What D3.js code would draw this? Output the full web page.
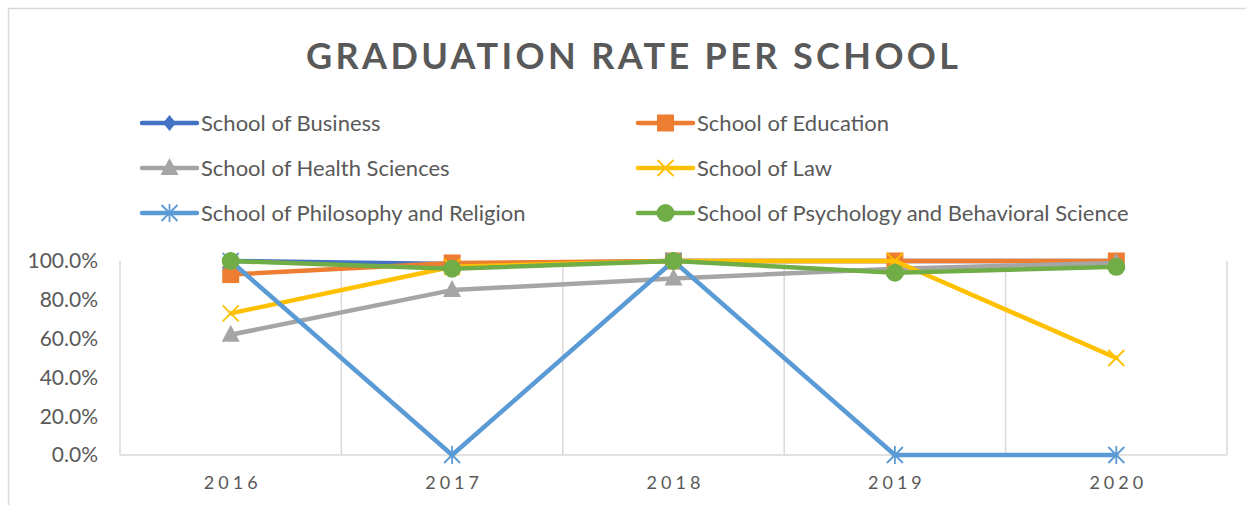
<!DOCTYPE html>
<html>
<head>
<meta charset="utf-8">
<script src="https://cdn.jsdelivr.net/npm/d3@7"></script>
<style>
  body { margin: 0; background: #fff; }
  text { font-family: Lato, "Open Sans", sans-serif; fill: #595959; }
</style>
</head>
<body>
<div id="chart"></div>
<script>
// data
let years = ["2016", "2017", "2018", "2019", "2020"];
let yTicks = [0, 0.2, 0.4, 0.6, 0.8, 1.0];

let business   = [1.00, 0.985, 1.00, 1.00, 1.00];
let education  = [0.93, 0.99, 1.00, 1.00, 1.00];
let health     = [0.62, 0.85, 0.91, 0.96, 0.99];
let law        = [0.73, 0.97, 1.00, 1.00, 0.50];
let philosophy = [1.00, 0.00, 1.00, 0.00, 0.00];
let psychology = [1.00, 0.96, 1.00, 0.94, 0.97];

let names = ["School of Business", "School of Education", "School of Health Sciences",
             "School of Law", "School of Philosophy and Religion",
             "School of Psychology and Behavioral Science"];
let colors = ["#4472C4", "#ED7D31", "#A5A5A5", "#FFC000", "#5B9BD5", "#70AD47"];
let markers = ["diamond", "square", "triangle", "x", "star", "circle"];

let series = [business, education, health, law, philosophy, psychology].map((v, i) => ({
    name: names[i], color: colors[i], marker: markers[i], values: v
}));

let width = 1246, height = 505;

let svg = d3.select("#chart").append("svg")
    .attr("width", width)
    .attr("height", height);

svg.append("rect")
    .attr("width", width).attr("height", height)
    .attr("fill", "#fff");

// chart area border
svg.append("rect")
    .attr("x", 8.5).attr("y", 8.5)
    .attr("width", 1260).attr("height", 520)
    .attr("fill", "none")
    .attr("stroke", "#D9D9D9")
    .attr("stroke-width", 1.5);

// title
svg.append("text")
    .attr("x", 306)
    .attr("y", 69)
    .attr("textLength", 652)
    .attr("lengthAdjust", "spacing")
    .style("font-size", "36px")
    .style("font-weight", "bold")
    .text("GRADUATION RATE PER SCHOOL");

let x = d3.scaleBand()
    .domain(years)
    .range([120, 1227]);

let y = d3.scaleLinear()
    .domain([0, 1])
    .range([455, 261]);

// vertical gridlines between categories
let edges = years.map(d => x(d)).concat([x.range()[1]]);
svg.selectAll(".vgrid")
    .data(edges)
    .enter()
    .append("line")
    .attr("x1", d => d).attr("x2", d => d)
    .attr("y1", y(1)).attr("y2", y(0))
    .attr("stroke", "#D9D9D9")
    .attr("stroke-width", 1.5);

// category axis line
svg.append("line")
    .attr("x1", x.range()[0]).attr("x2", x.range()[1])
    .attr("y1", y(0)).attr("y2", y(0))
    .attr("stroke", "#D9D9D9")
    .attr("stroke-width", 1.5);

// y labels
svg.selectAll(".ylab")
    .data(yTicks)
    .enter()
    .append("text")
    .attr("x", 98)
    .attr("y", d => y(d))
    .attr("dy", "0.35em")
    .attr("text-anchor", "end")
    .style("font-size", "21px")
    .text(d => d3.format(".1%")(d));

// x labels
svg.selectAll(".xlab")
    .data(years)
    .enter()
    .append("text")
    .attr("x", d => x(d) + x.bandwidth() / 2 + 2)
    .attr("y", 489)
    .attr("text-anchor", "middle")
    .style("font-size", "18px")
    .style("letter-spacing", "4px")
    .text(d => d);

// marker drawing
function drawMarker(g, type, color, cx, cy) {
    if (type == "x" || type == "star") {
        let s = 8;
        let p = `M${cx - s},${cy - s}L${cx + s},${cy + s}M${cx - s},${cy + s}L${cx + s},${cy - s}`;
        if (type == "star") p += `M${cx},${cy - s - 1}L${cx},${cy + s + 1}`;
        g.append("path")
            .attr("d", p)
            .attr("stroke", color)
            .attr("stroke-width", 1.8)
            .attr("fill", "none");
        return;
    }
    let path;
    if (type == "diamond") {
        path = `M${cx},${cy - 8}L${cx + 6.5},${cy}L${cx},${cy + 8}L${cx - 6.5},${cy}Z`;
    } else if (type == "square") {
        path = `M${cx - 8.5},${cy - 8.5}h17v17h-17Z`;
    } else if (type == "triangle") {
        path = `M${cx},${cy - 10}L${cx + 9},${cy + 7}L${cx - 9},${cy + 7}Z`;
    } else {
        path = d3.symbol().type(d3.symbolCircle).size(Math.PI * 81)();
        g.append("path")
            .attr("d", path)
            .attr("transform", `translate(${cx},${cy})`)
            .attr("fill", color);
        return;
    }
    g.append("path").attr("d", path).attr("fill", color);
}

let line = d3.line()
    .x((d, i) => x(years[i]) + x.bandwidth() / 2)
    .y(d => y(d));

// one series at a time, later series on top
series.forEach(s => {
    let g = svg.append("g");
    g.append("path")
        .datum(s.values)
        .attr("d", line)
        .attr("fill", "none")
        .attr("stroke", s.color)
        .attr("stroke-width", 4.5)
        .attr("stroke-linejoin", "round")
        .attr("stroke-linecap", "round");
    s.values.forEach((v, i) => {
        drawMarker(g, s.marker, s.color, x(years[i]) + x.bandwidth() / 2, y(v));
    });
});

// legend: 2 columns, 3 rows
let legendX = [142, 638];
let legendY = [123, 168, 213];
series.forEach((s, i) => {
    let lx = legendX[i % 2];
    let ly = legendY[Math.floor(i / 2)];
    let g = svg.append("g");
    g.append("line")
        .attr("x1", lx).attr("x2", lx + 55)
        .attr("y1", ly).attr("y2", ly)
        .attr("stroke", s.color)
        .attr("stroke-width", 4.5)
        .attr("stroke-linecap", "round");
    drawMarker(g, s.marker, s.color, lx + 27.5, ly);
    g.append("text")
        .attr("x", lx + 59)
        .attr("y", ly)
        .attr("dy", "0.35em")
        .style("font-size", "22px")
        .text(s.name);
});
</script>
</body>
</html>
